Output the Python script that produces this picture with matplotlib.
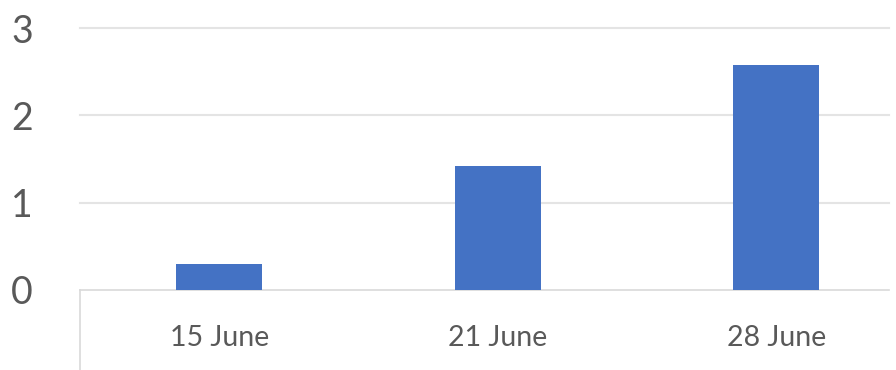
import numpy as np
import matplotlib
matplotlib.use("Agg")
from matplotlib import pyplot as plt
from matplotlib.lines import Line2D

# Data
dates = ["15 June", "21 June", "28 June"]
values = [0.30, 1.42, 2.58]
yticks = [0, 1, 2, 3]

bar_color = "#4472C4"
grid_color = "#e4e4e4"
text_color = "#595959"

plt.rcParams['font.family'] = ['Lato', 'DejaVu Sans']

fig = plt.figure(figsize=(8.96, 3.70), dpi=100, facecolor='w')
ax = fig.add_axes([80 / 896, 80 / 370, 809 / 896, 264 / 370])

x = np.arange(len(dates))
ax.bar(x, values, width=0.31, color=bar_color, zorder=3)

ax.set_xlim(-0.5, -0.5 + 809 / 278.5)
ax.set_ylim(0, 3.023)

ax.set_yticks(yticks)
ax.set_yticklabels([str(v) for v in yticks])
ax.set_xticks(x)
ax.set_xticklabels(dates)

ax.tick_params(axis='y', length=0, pad=34, labelsize=27, labelcolor=text_color)
ax.tick_params(axis='x', length=0, pad=25, labelsize=20.5, labelcolor=text_color)

# Gridlines
for v in yticks[1:]:
    ax.axhline(v, color=grid_color, lw=1.5, zorder=1, clip_on=False)

for side in ['top', 'right', 'left']:
    ax.spines[side].set_visible(False)
ax.spines['bottom'].set_color('#d9d9d9')
ax.spines['bottom'].set_linewidth(1.2)

# left edge of the category axis runs down below the baseline
ax.add_line(Line2D([0, 0], [0, -0.31], transform=ax.transAxes,
                   color='#d9d9d9', lw=1.2, clip_on=False))

fig.savefig("out.png", dpi=100)
